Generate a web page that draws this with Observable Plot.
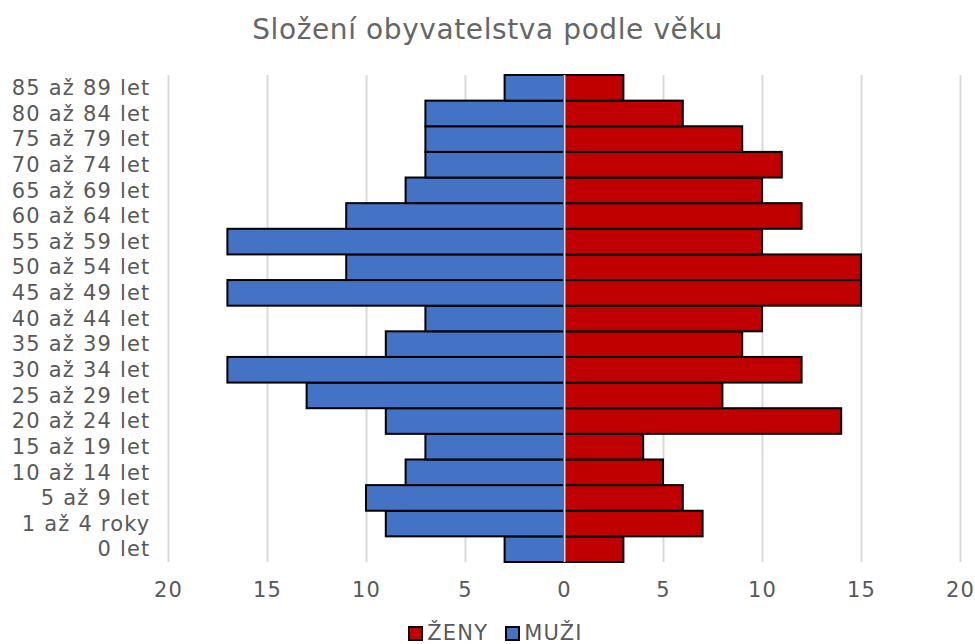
<!DOCTYPE html>
<html>
<head>
<meta charset="utf-8">
<script src="https://cdn.jsdelivr.net/npm/d3@7"></script>
<script src="https://cdn.jsdelivr.net/npm/@observablehq/plot@0.6"></script>
<style>
  html, body { margin: 0; padding: 0; background: #fff; }
  body { width: 975px; height: 644px; overflow: hidden; font-family: "DejaVu Sans", Verdana, sans-serif; color: #595959; }
  #title { height: 60px; line-height: 60px; text-align: center; font-size: 28px; color: #666666; letter-spacing: 0.6px; }
  #chart svg { display: block; }
  #legend { display: flex; justify-content: center; align-items: center; gap: 17px; font-size: 21px; height: 34px; letter-spacing: 1.2px; padding-top: 6px; padding-left: 16px; }
  .item { display: flex; align-items: center; gap: 4px; }
  .sw { width: 11px; height: 11px; border: 2px solid #000; box-sizing: content-box; }
</style>
</head>
<body>
<div id="title">Složení obyvatelstva podle věku</div>
<div id="chart"></div>
<div id="legend"></div>
<script>
const ages = ["0 let","1 až 4 roky","5 až 9 let","10 až 14 let","15 až 19 let","20 až 24 let","25 až 29 let","30 až 34 let","35 až 39 let","40 až 44 let","45 až 49 let","50 až 54 let","55 až 59 let","60 až 64 let","65 až 69 let","70 až 74 let","75 až 79 let","80 až 84 let","85 až 89 let"];
const muzi = [3, 9, 10, 8, 7, 9, 13, 17, 9, 7, 17, 11, 17, 11, 8, 7, 7, 7, 3];
const zeny = [3, 7, 6, 5, 4, 14, 8, 12, 9, 10, 15, 15, 10, 12, 10, 11, 9, 6, 3];
const seriesNames = ["ŽENY", "MUŽI"];
const seriesColors = ["#C00000", "#4472C4"];
const xTicks = [-20, -15, -10, -5, 0, 5, 10, 15, 20];

const data = [];
ages.forEach((a, i) => {
  data.push({age: a, sex: "MUŽI", value: -muzi[i]});
  data.push({age: a, sex: "ŽENY", value: zeny[i]});
});

const chart = Plot.plot({
  width: 975,
  height: 550,
  marginTop: 15,
  marginBottom: 48,
  marginLeft: 168,
  marginRight: 15,
  style: { fontFamily: "'DejaVu Sans', Verdana, sans-serif", fontSize: "21px", color: "#595959", letterSpacing: "1.2px" },
  x: { domain: [-20, 20], ticks: xTicks, tickFormat: d => Math.abs(d), tickSize: 0, tickPadding: 20, label: null },
  y: { domain: ages.slice().reverse(), padding: 0, round: false, tickSize: 0, tickPadding: 18, label: null },
  color: { domain: seriesNames, range: seriesColors },
  marks: [
    Plot.ruleX(xTicks.filter(d => d !== 0), { stroke: "#d9d9d9", strokeWidth: 2 }),
    Plot.barX(data, { y: "age", x: "value", fill: "sex", stroke: "#000", strokeWidth: 2 }),
    Plot.ruleX([0], { stroke: "#d9d9d9", strokeWidth: 2 })
  ]
});
document.getElementById("chart").appendChild(chart);

const legend = document.getElementById("legend");
seriesNames.forEach((n, i) => {
  const it = document.createElement("div");
  it.className = "item";
  const sw = document.createElement("div");
  sw.className = "sw";
  sw.style.background = seriesColors[i];
  const t = document.createElement("span");
  t.textContent = n;
  it.appendChild(sw); it.appendChild(t);
  legend.appendChild(it);
});
</script>
</body>
</html>
